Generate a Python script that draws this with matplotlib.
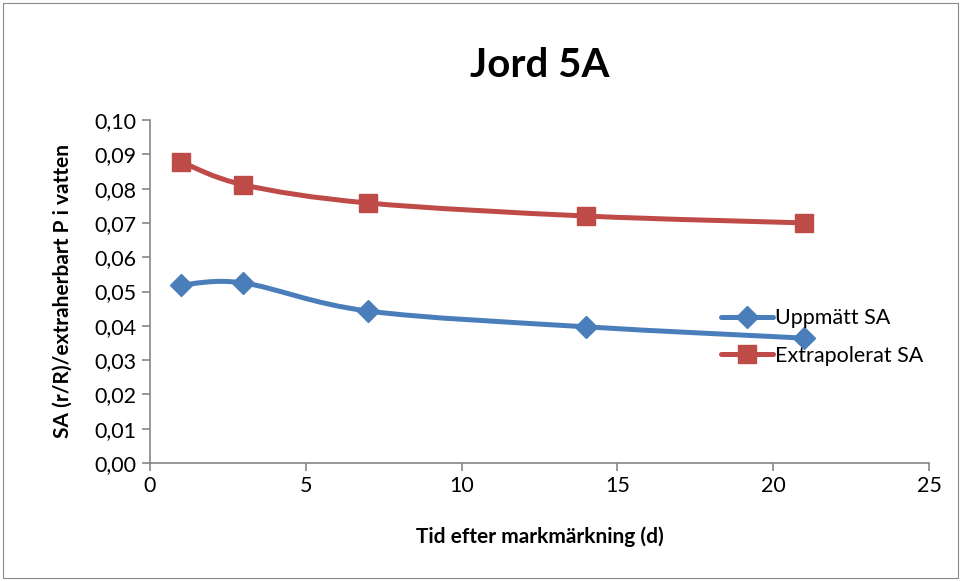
import numpy as np
import matplotlib.pyplot as plt
from matplotlib.path import Path
from matplotlib.patches import PathPatch, Rectangle
from matplotlib.lines import Line2D
from matplotlib.ticker import FuncFormatter

plt.rcParams['font.family'] = ['Lato', 'DejaVu Sans']

# data
days = [1, 3, 7, 14, 21]
uppmatt = [0.0519, 0.0525, 0.0443, 0.0397, 0.0364]
extrapolerat = [0.0878, 0.0811, 0.0758, 0.0720, 0.0700]

blue = '#4a7ebb'
red = '#be4b48'


def smooth_path(xs, ys):
    # Excel-style smoothed line: cubic bezier through points
    pts = np.column_stack([xs, ys]).astype(float)
    n = len(pts)
    verts = [pts[0]]
    codes = [Path.MOVETO]
    for i in range(n - 1):
        p0 = pts[i - 1] if i > 0 else pts[i]
        p1 = pts[i]
        p2 = pts[i + 1]
        p3 = pts[i + 2] if i + 2 < n else pts[i + 1]
        c1 = p1 + (p2 - p0) / 6
        c2 = p2 - (p3 - p1) / 6
        verts += [c1, c2, p2]
        codes += [Path.CURVE4] * 3
    return Path(verts, codes)


fig = plt.figure(figsize=(9.62, 5.81), dpi=100)
ax = fig.add_axes([150 / 962, 1 - 463 / 581, 779 / 962, 343 / 581])

fig.patches.append(Rectangle((3 / 962, 3 / 581), 955 / 962, 575 / 581,
                             transform=fig.transFigure, fill=False,
                             edgecolor='#898989', linewidth=0.8))

for ys, col, mk, ms in [(uppmatt, blue, 'D', 11), (extrapolerat, red, 's', 13.5)]:
    ax.add_patch(PathPatch(smooth_path(days, ys), facecolor='none',
                           edgecolor=col, linewidth=3.6, capstyle='round'))
    ax.plot(days, ys, linestyle='none', marker=mk, markersize=ms,
            color=col, zorder=3)

ax.set_xlim(0, 25)
ax.set_ylim(0, 0.10)
ax.set_xticks(np.arange(0, 26, 5))
ax.set_yticks(np.arange(0, 0.101, 0.01))
ax.yaxis.set_major_formatter(FuncFormatter(lambda v, p: f'{v:.2f}'.replace('.', ',')))

for s in ['top', 'right']:
    ax.spines[s].set_visible(False)
for s in ['left', 'bottom']:
    ax.spines[s].set_color('#868686')
    ax.spines[s].set_linewidth(1.2)
ax.tick_params(colors='#868686', labelcolor='black', labelsize=15.5,
               length=6, width=1.2)

ax.set_title('Jord 5A', fontsize=29, fontweight='bold', pad=31)
ax.set_xlabel('Tid efter markmärkning (d)', fontsize=15, fontweight='bold', labelpad=22)
ax.set_ylabel('SA (r/R)/extraherbart P i vatten', fontsize=15, fontweight='bold', labelpad=16)

handles = [
    Line2D([], [], color=blue, linewidth=3.6, marker='D', markersize=11, solid_capstyle='round'),
    Line2D([], [], color=red, linewidth=3.6, marker='s', markersize=13.5, solid_capstyle='round'),
]
fig.legend(handles, ['Uppmätt SA', 'Extrapolerat SA'], loc='center left',
           bbox_to_anchor=(702 / 962, 1 - 337 / 581), frameon=False,
           fontsize=15.5, handlelength=2.4, handletextpad=0.1, labelspacing=0.8)

fig.savefig('out.png', dpi=100)
